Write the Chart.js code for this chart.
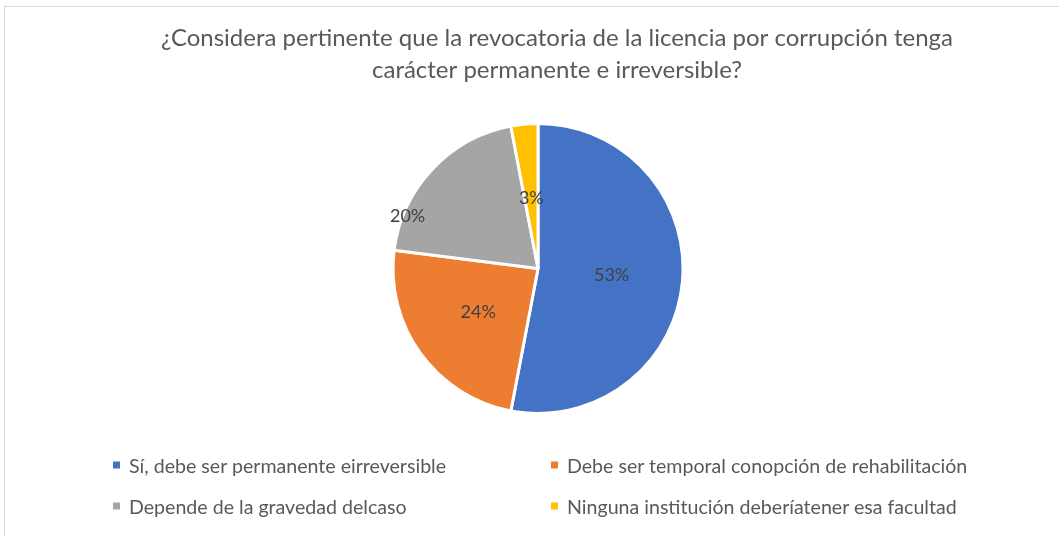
<!DOCTYPE html>
<html lang="es">
<head>
<meta charset="utf-8">
<script src="https://cdn.jsdelivr.net/npm/chart.js@4"></script>
<style>
    html, body { margin: 0; padding: 0; background: #fff; overflow: hidden; }
    body { width: 1059px; height: 536px; position: relative; font-family: Lato, "Open Sans", sans-serif; }
    #marco { position: absolute; left: 4px; top: 6px; width: 1200px; height: 700px; border: 1px solid #d9d9d9; box-sizing: border-box; }
    #grafico { position: absolute; left: 0; top: 0; }
    #leyenda { position: absolute; left: 0; top: 0; width: 1059px; height: 536px; pointer-events: none; }
    .item { position: absolute; display: flex; align-items: center; font-size: 19.6px; color: #595959; white-space: nowrap; transform: translateY(-50%); }
    .item span.cuadro { display: inline-block; width: 7px; height: 7px; margin-right: 9px; }
</style>
</head>
<body>
<div id="marco"></div>
<canvas id="grafico" width="1059" height="536"></canvas>
<div id="leyenda"></div>
<script>
// Datos
const categorias = [
    "Sí, debe ser permanente eirreversible",
    "Debe ser temporal conopción de rehabilitación",
    "Depende de la gravedad delcaso",
    "Ninguna institución deberíatener esa facultad"
];
const valores = [53, 24, 20, 3];
const colores = ["#4472C4", "#ED7D31", "#A5A5A5", "#FFC000"];
const titulo = [
    "¿Considera pertinente que la revocatoria de la licencia por corrupción tenga",
    "carácter permanente e irreversible?"
];

// Título (centrado un poco a la derecha del gráfico, como en el original)
const tituloPlugin = {
    id: "tituloCentrado",
    afterDraw(chart, args, opts) {
        const ctx = chart.ctx;
        ctx.save();
        ctx.font = "24px Lato, sans-serif";
        ctx.fillStyle = "#595959";
        ctx.textAlign = "center";
        ctx.textBaseline = "middle";
        titulo.forEach((linea, i) => {
            ctx.fillText(linea, opts.x, opts.y + i * opts.interlineado);
        });
        ctx.restore();
    }
};

// Etiquetas de porcentaje dentro de cada porción
const etiquetasPlugin = {
    id: "etiquetas",
    afterDatasetsDraw(chart, args, opts) {
        const ctx = chart.ctx;
        const meta = chart.getDatasetMeta(0);
        const total = valores.reduce((a, b) => a + b, 0);
        ctx.save();
        ctx.font = "18px Lato, sans-serif";
        ctx.fillStyle = "#404040";
        ctx.textAlign = "center";
        ctx.textBaseline = "middle";
        meta.data.forEach((arc, i) => {
            const p = arc.getProps(["x", "y", "startAngle", "endAngle", "outerRadius"], true);
            const ang = (p.startAngle + p.endAngle) / 2 + (opts.giro[i] || 0);
            const r = p.outerRadius * opts.radio[i];
            const txt = Math.round(valores[i] / total * 100) + "%";
            ctx.fillText(txt, p.x + Math.cos(ang) * r, p.y + Math.sin(ang) * r);
        });
        ctx.restore();
    }
};

const ctx = document.getElementById("grafico").getContext("2d");
const chart = new Chart(ctx, {
    type: "pie",
    data: {
        labels: categorias,
        datasets: [{
            data: valores,
            backgroundColor: colores,
            borderColor: "#ffffff",
            borderWidth: 3
        }]
    },
    options: {
        responsive: false,
        animation: false,
        layout: {
            padding: { top: 122, bottom: 121, left: 17, right: 0 }
        },
        plugins: {
            legend: { display: false },
            tooltip: { enabled: false },
            title: { display: false },
            tituloCentrado: { x: 557, y: 38, interlineado: 32 },
            etiquetas: {
                radio: [0.51, 0.51, 0.97, 0.49],
                giro: [0, 0, -0.37, 0]
            }
        }
    },
    plugins: [etiquetasPlugin, tituloPlugin]
});

// Leyenda en dos columnas
const leyenda = document.getElementById("leyenda");
const posX = [113, 551];
const posY = [465, 506];
categorias.forEach((cat, i) => {
    const div = document.createElement("div");
    div.className = "item";
    div.style.left = posX[i % 2] + "px";
    div.style.top = posY[Math.floor(i / 2)] + "px";
    div.innerHTML = `<span class="cuadro" style="background:${colores[i]}"></span>${cat}`;
    leyenda.appendChild(div);
});
</script>
</body>
</html>
